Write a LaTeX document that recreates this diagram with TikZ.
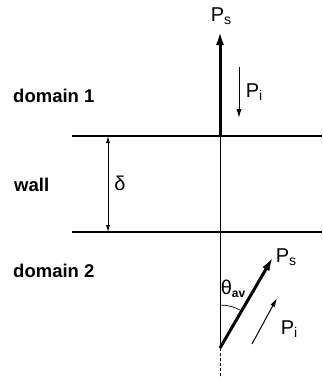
\documentclass[tikz,border=0pt]{standalone}
\usepackage{fontspec}
\setmainfont{Liberation Sans}
\usetikzlibrary{arrows.meta}
\begin{document}
\begin{tikzpicture}[x=1pt,y=-1pt,
  lbl/.style={font=\fontsize{18.5}{18.5}\selectfont\bfseries, inner sep=0pt},
  sym/.style={font=\fontsize{20}{20}\selectfont, inner sep=0pt},
  wallline/.style={line width=1.8pt},
  bigarrow/.style={line width=3pt, -{Latex[length=14pt,width=8pt]}},
  smallarrow/.style={line width=1pt, -{Latex[length=9pt,width=5pt]}},
  dimarrow/.style={line width=0.8pt, {Latex[length=7pt,width=4pt]}-{Latex[length=7pt,width=4pt]}},
]
\useasboundingbox (0,0) rectangle (322,381);
% walls
\coordinate (t1) at (72,136); \coordinate (t2) at (322,136);
\coordinate (b1) at (72,232); \coordinate (b2) at (322,232);
\draw[wallline] (t1) -- (t2);
\draw[wallline] (b1) -- (b2);
% reference vertical
\coordinate (v0) at (220,136);
\coordinate (v1) at (220,348);
\coordinate (v2) at (220,378);
\draw[line width=0.7pt] (v0) -- (v1);
\draw[line width=0.7pt, densely dashed] (v1) -- (v2);
% delta
\coordinate (d1) at (108,136); \coordinate (d2) at (108,232);
\draw[dimarrow] (d1) -- (d2);
\node[sym] (delta) at (120,183) {δ};
% labels
\node[lbl, anchor=west] (dom1) at (13,96) {domain 1};
\node[lbl, anchor=west] (wall) at (14,185) {wall};
\node[lbl, anchor=west] (dom2) at (13,271) {domain 2};
% domain 1 arrows
\coordinate (ps1tip) at (220,31);
\draw[bigarrow] (v0) -- (ps1tip);
\node[sym] (ps1) at (221,16) {P\raisebox{-3pt}{\fontsize{14}{14}\selectfont s}};
\coordinate (pi1a) at (239,67); \coordinate (pi1b) at (239,118);
\draw[smallarrow] (pi1a) -- (pi1b);
\node[sym] (pi1) at (254,92) {P\raisebox{-3pt}{\fontsize{14}{14}\selectfont i}};
% domain 2 arrows
\coordinate (ps2tip) at (273,257);
\draw[bigarrow] (v1) -- (ps2tip);
\node[sym] (ps2) at (286,257) {P\raisebox{-3pt}{\fontsize{14}{14}\selectfont s}};
\coordinate (pi2a) at (252,344); \coordinate (pi2b) at (277,298);
\draw[smallarrow] (pi2a) -- (pi2b);
\node[sym] (pi2) at (289,329) {P\raisebox{-3pt}{\fontsize{14}{14}\selectfont i}};
% angle
\draw[line width=0.7pt] (220,305) arc[start angle=-90, end angle=-60, radius=43];
\node[sym] (theta) at (233,289) {θ\raisebox{-3pt}{\fontsize{12}{12}\selectfont\bfseries av}};
\end{tikzpicture}
\end{document}
